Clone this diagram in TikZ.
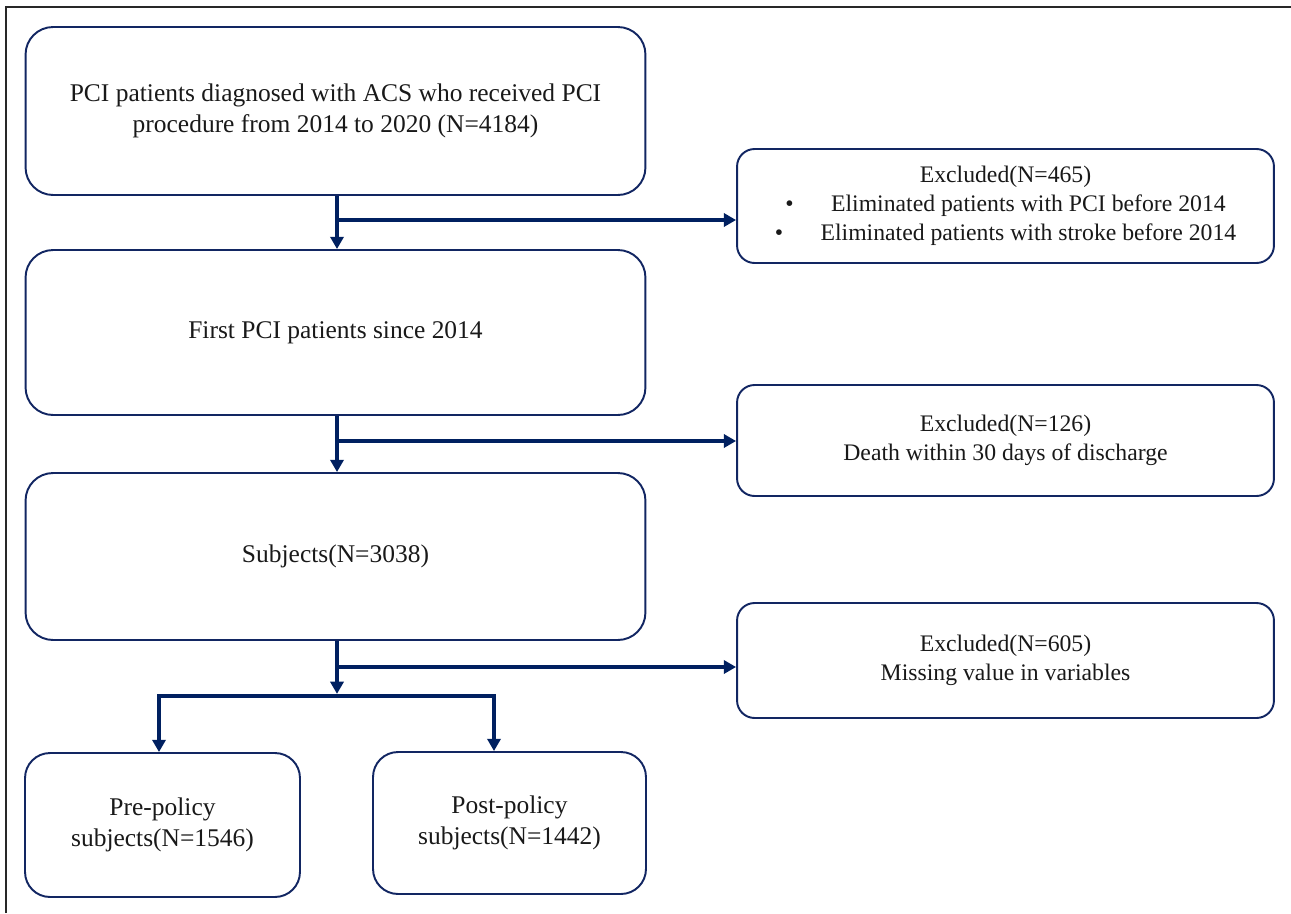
\documentclass[tikz,border=0pt]{standalone}
\usepackage{fontspec}
\setmainfont{Liberation Serif}
\usetikzlibrary{positioning, arrows.meta, calc}
\definecolor{navy}{RGB}{0,32,96}
\definecolor{boxline}{RGB}{18,38,98}
\definecolor{framegray}{RGB}{40,40,40}

\begin{document}
\begin{tikzpicture}[
  x=0.02cm, y=-0.02cm,
  mainbox/.style={draw=boxline, line width=1.1pt, rounded corners=0.55cm, minimum width=12.4cm,
                  align=center, font=\fontsize{14.5}{17.5}\selectfont, text=black!90},
  exbox/.style={draw=boxline, line width=1.1pt, rounded corners=0.35cm, minimum width=10.74cm,
                align=center, font=\fontsize{13.5}{16.6}\selectfont, text=black!90},
  subbox/.style={draw=boxline, line width=1.1pt, rounded corners=0.5cm,
                 align=center, font=\fontsize{14.5}{17.5}\selectfont, text=black!90},
  arrow/.style={-{Triangle[length=7pt, width=7.5pt]}, line width=2.3pt, navy},
  link/.style={line width=2.3pt, navy}
]
  \useasboundingbox (0,0) rectangle (1291,913);
  \draw[framegray, line width=1.2pt] (6,913) -- (6,7) -- (1291,7);

  \node[mainbox, minimum height=3.36cm] (all) at (335.5,111)
    {PCI patients diagnosed with ACS who received PCI\\procedure from 2014 to 2020 (N=4184)};
  \node[mainbox, minimum height=3.3cm] (first) at (335.5,332.5) {First PCI patients since 2014};
  \node[mainbox, minimum height=3.34cm] (subj) at (335.5,556.5) {Subjects(N=3038)};

  \node[exbox, minimum height=2.28cm] (ex1) at (1005.5,206)
    {Excluded(N=465)\\
     \textbullet\hspace{0.75cm}Eliminated patients with PCI before 2014\\
     \textbullet\hspace{0.75cm}Eliminated patients with stroke before 2014};
  \node[exbox, minimum height=2.22cm] (ex2) at (1005.5,440.5)
    {Excluded(N=126)\\Death within 30 days of discharge};
  \node[exbox, minimum height=2.3cm] (ex3) at (1005.5,660.5)
    {Excluded(N=605)\\Missing value in variables};

  \node[subbox, minimum width=5.5cm, minimum height=2.88cm] (pre) at (162.5,825)
    {Pre-policy\\subjects(N=1546)};
  \node[subbox, minimum width=5.46cm, minimum height=2.84cm] (post) at (509.5,823)
    {Post-policy\\subjects(N=1442)};

  \coordinate (b1) at (337,220);
  \coordinate (b2) at (337,441);
  \coordinate (b3) at (337,667);
  \coordinate (split) at (337,696);
  \coordinate (sl) at (159,696);
  \coordinate (sr) at (494,696);

  \draw[arrow] (all.south -| b1) -- (first.north -| b1);
  \draw[arrow] (b1) -- (b1 -| ex1.west);
  \draw[arrow] (first.south -| b2) -- (subj.north -| b2);
  \draw[arrow] (b2) -- (b2 -| ex2.west);
  \draw[arrow] (subj.south -| b3) -- ([yshift=1.2pt]split);
  \draw[arrow] (b3) -- (b3 -| ex3.west);
  \draw[link, line cap=rect] (sl) -- (sr);
  \draw[arrow] (sl) -- (pre.north -| sl);
  \draw[arrow] (sr) -- (post.north -| sr);
\end{tikzpicture}
\end{document}
